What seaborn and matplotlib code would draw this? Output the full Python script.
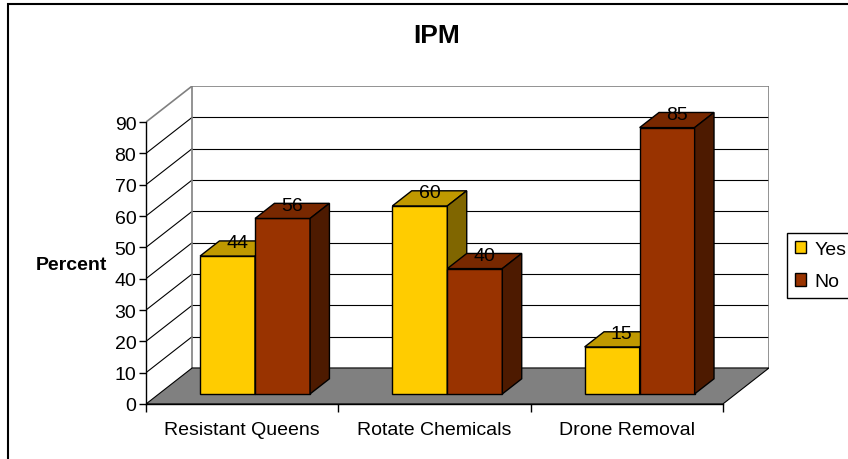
import matplotlib
matplotlib.use("Agg")
import pandas as pd
import matplotlib.pyplot as plt
import seaborn as sns
from matplotlib.patches import Polygon, Rectangle, Patch

# DATA
practices = ["Resistant Queens", "Rotate Chemicals", "Drone Removal"]
answers = ["Yes", "No"]
yes_pct = [44, 60, 15]
no_pct = [56, 40, 85]
y_ticks = list(range(0, 100, 10))

front_colors = {"Yes": "#FFCC00", "No": "#993300"}
top_colors = {"Yes": "#C09900", "No": "#782800"}
side_colors = {"Yes": "#806600", "No": "#4D1A00"}

# oblique depth of the box (data units) and where the bars sit in it
DX, DY = 0.24, 11.5
BAR_FRONT, BAR_DEPTH = 0.28, 0.42

df = pd.DataFrame({
    "practice": practices * 2,
    "answer": ["Yes"] * len(practices) + ["No"] * len(practices),
    "percent": yes_pct + no_pct,
})

sns.set_theme(style="white")
plt.rcParams["font.family"] = ["Liberation Sans", "DejaVu Sans"]
plt.rcParams.update({"text.color": "black", "axes.labelcolor": "black",
                     "xtick.color": "black", "ytick.color": "black"})

fig = plt.figure(figsize=(8.48, 4.6), dpi=100)
ax = fig.add_axes([146 / 848, 55 / 460, 623 / 848, 318 / 460])
ax.patch.set_visible(False)

ymax = y_ticks[-1]
x0, x1 = -0.5, len(practices) - 0.5

# WALLS
for v in y_ticks[1:-1]:
    ax.plot([x0 + DX, x1 + DX], [v + DY, v + DY], color="black", lw=0.8, zorder=0.5)
    ax.plot([x0, x0 + DX], [v, v + DY], color="black", lw=0.8, zorder=0.5)
ax.plot([x0 + DX, x1 + DX], [ymax + DY, ymax + DY], color="#808080", lw=1.2, zorder=0.6)
ax.plot([x0, x0 + DX], [ymax, ymax + DY], color="#808080", lw=1.2, zorder=0.6)
for xe in (x0 + DX, x1 + DX):
    ax.plot([xe, xe], [DY, ymax + DY], color="#808080", lw=1.2, zorder=0.6)

# FLOOR
floor = Polygon([(x0, 0), (x1, 0), (x1 + DX, DY), (x0 + DX, DY)],
                closed=True, fc="#808080", ec="black", lw=0.8, zorder=1)
ax.add_patch(floor)

# BARS (front faces)
sns.barplot(data=df, x="practice", y="percent", hue="answer",
            hue_order=answers, order=practices, palette=front_colors,
            width=0.572, saturation=1, edgecolor="black", linewidth=1,
            legend=False, ax=ax)

# 3D top + side faces
ddx, ddy = BAR_DEPTH * DX, BAR_DEPTH * DY
for i, (ans, cont) in enumerate(zip(answers, ax.containers)):
    for bar in cont:
        bar.set_x(bar.get_x() + BAR_FRONT * DX)
        bar.set_y(bar.get_y() + BAR_FRONT * DY)
        bar.set_zorder(3 + i)
        bx, by = bar.get_x(), bar.get_y()
        w, h = bar.get_width(), bar.get_height()
        top = by + h
        ax.add_patch(Polygon([(bx, top), (bx + w, top), (bx + w + ddx, top + ddy), (bx + ddx, top + ddy)],
                             closed=True, fc=top_colors[ans], ec="black", lw=1, zorder=3 + i))
        ax.add_patch(Polygon([(bx + w, by), (bx + w, top), (bx + w + ddx, top + ddy), (bx + w + ddx, by + ddy)],
                             closed=True, fc=side_colors[ans], ec="black", lw=1, zorder=3 + i))
        ax.text(bx + w / 2 + ddx / 2, top + ddy - 0.6, f"{int(round(h))}", ha="center", va="center",
                fontsize=14, color="black", zorder=6)

# AXES
ax.set_xlim(x0, x1 + DX)
ax.set_ylim(0, ymax + DY)
for s in ("top", "right"):
    ax.spines[s].set_visible(False)
ax.spines["left"].set_bounds(0, ymax)
ax.spines["bottom"].set_bounds(x0, x1)
for s in ("left", "bottom"):
    ax.spines[s].set_color("black")
    ax.spines[s].set_linewidth(1)

ax.set_yticks(y_ticks)
ax.tick_params(axis="y", left=True, direction="out", length=5, width=1,
               color="black", labelsize=14, pad=2, labelcolor="black")
ax.set_xticks(range(len(practices)))
ax.set_xticklabels(practices)
ax.set_xticks([x0 + k for k in range(len(practices) + 1)], minor=True)
ax.tick_params(axis="x", which="major", bottom=False, labelsize=14, pad=6, labelcolor="black")
ax.tick_params(axis="x", which="minor", bottom=True, direction="out", length=6, width=1, color="black")

ax.set_xlabel("")
ax.set_ylabel("Percent", rotation=0, fontsize=14, fontweight="bold", ha="center", va="center", color="black")
ax.yaxis.set_label_coords((71 - 146) / 623, (405 - 265) / 318)

# LEGEND
handles = [Patch(fc=front_colors[a], ec="black", lw=1) for a in answers]
leg = fig.legend(handles, answers, loc="upper left", bbox_to_anchor=(787 / 848, 1 - 234 / 460),
                 fontsize=14, frameon=True, fancybox=False, edgecolor="black", framealpha=1,
                 handlelength=0.6, handleheight=0.6, handletextpad=0.4, labelspacing=0.8,
                 borderpad=0.4, borderaxespad=0)
leg.get_frame().set_linewidth(1)

# TITLE + outer frame
fig.text(437 / 848, 1 - 36 / 460, "IPM", ha="center", va="center", fontsize=19,
         fontweight="bold", color="black")
fig.add_artist(Rectangle((8 / 848, -0.1), 1.2, 1 - 5 / 460 + 0.1, transform=fig.transFigure,
                         fill=False, ec="black", lw=1.5))

fig.savefig("out.png", dpi=100)
